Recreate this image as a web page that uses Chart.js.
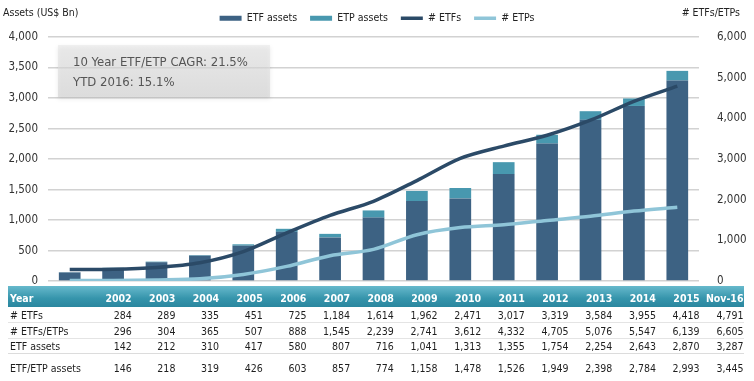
<!DOCTYPE html>
<html>
<head>
<meta charset="utf-8">
<title>ETF / ETP assets</title>
<script src="https://cdn.jsdelivr.net/npm/chart.js@4.4.0/dist/chart.umd.min.js"></script>
<style>
body { margin: 0; background: #fff; }
#wrap { position: relative; width: 754px; height: 381px; overflow: hidden; font-family: "DejaVu Sans Condensed", "Liberation Sans", sans-serif; }
#chartBox { position: absolute; left: 0; top: 0; width: 754px; height: 298px; }
#dataTable { position: absolute; left: 8px; top: 286px; width: 735.5px; border-collapse: collapse; table-layout: fixed; font-size: 10.5px; line-height: 12px; color: #1e1e1e; background: #fff; }
#dataTable td { padding: 0; text-align: right; white-space: nowrap; overflow: visible; vertical-align: middle; }
#dataTable td.lbl { text-align: left; padding-left: 2px; }
#dataTable tr.head td { color: #fff; font-weight: bold; height: 21px; padding-top: 3px; box-sizing: border-box; background: linear-gradient(#67b9cc, #3594ab 60%, #2b879f); }
#dataTable tr.r1 td, #dataTable tr.r2 td { height: 15px; border-bottom: 1px solid #e4e4e4; }
#dataTable tr.r3 td { height: 14px; border-bottom: 1px solid #dcdcdc; }
#dataTable tr.r4 td { height: 27px; }
</style>
</head>
<body>
<div id="wrap">
  <div id="chartBox"><canvas id="etfChart"></canvas></div>
  <table id="dataTable"></table>
</div>
<script>
// categories
var years = ['2002', '2003', '2004', '2005', '2006', '2007', '2008', '2009', '2010', '2011', '2012', '2013', '2014', '2015', 'Nov-16'];

// table rows, as printed under the chart
var numEtfs = [284, 289, 335, 451, 725, 1184, 1614, 1962, 2471, 3017, 3319, 3584, 3955, 4418, 4791];
var numEtfsEtps = [296, 304, 365, 507, 888, 1545, 2239, 2741, 3612, 4332, 4705, 5076, 5547, 6139, 6605];
var etfAssets = [142, 212, 310, 417, 580, 807, 716, 1041, 1313, 1355, 1754, 2254, 2643, 2870, 3287];
var etfEtpAssets = [146, 218, 319, 426, 603, 857, 774, 1158, 1478, 1526, 1949, 2398, 2784, 2993, 3445];

// plotted extras (ETP part of the stack, # ETPs line)
var etpAssets = [4, 6, 9, 9, 23, 50, 58, 117, 165, 171, 195, 144, 141, 123, 158];
var numEtps = [12, 15, 30, 56, 163, 361, 625, 779, 1141, 1315, 1386, 1492, 1592, 1721, 1814];

var FONT = "'DejaVu Sans Condensed', 'Liberation Sans', sans-serif";

function fmt(v) {
	return v.toLocaleString('en-US');
}

// data table under the chart
function buildTable() {
	var tbl = document.getElementById('dataTable');
	var html = '<colgroup><col style="width:80px">';
	for (var i = 0; i < years.length; i++) {
		html += '<col style="width:43.7px">';
	}
	html += '</colgroup>';
	var rows = [
		['head', 'Year', years],
		['r1', '# ETFs', numEtfs.map(fmt)],
		['r2', '# ETFs/ETPs', numEtfsEtps.map(fmt)],
		['r3', 'ETF assets', etfAssets.map(fmt)],
		['r4', 'ETF/ETP assets', etfEtpAssets.map(fmt)]
	];
	rows.forEach(function(r) {
		html += '<tr class="' + r[0] + '"><td class="lbl">' + r[1] + '</td>';
		r[2].forEach(function(c) { html += '<td>' + c + '</td>'; });
		html += '</tr>';
	});
	tbl.innerHTML = html;
}
buildTable();

var extrasPlugin = {
	id: 'extras',
	beforeLayout: function(chart) {
		// keep a fixed band for the legend so the plot starts where the original does
		var lg = chart.legend;
		if (lg && !lg._fixedFit) {
			var fit = lg.fit;
			lg.fit = function() {
				fit.call(this);
				this.height = 37;
			};
			lg._fixedFit = true;
		}
	},
	beforeDatasetsDraw: function(chart) {
		var ctx = chart.ctx;
		var a = chart.chartArea;
		var x = a.left + 10, y = a.top + 8, w = 212, h = 52;
		ctx.save();
		ctx.shadowColor = 'rgba(0,0,0,0.15)';
		ctx.shadowBlur = 4;
		ctx.shadowOffsetY = 2;
		var g = ctx.createLinearGradient(0, y, 0, y + h);
		g.addColorStop(0, 'rgba(232,232,232,0.6)');
		g.addColorStop(1, 'rgba(212,212,212,0.6)');
		ctx.fillStyle = g;
		ctx.fillRect(x, y, w, h);
		ctx.restore();
		ctx.save();
		ctx.fillStyle = '#555';
		ctx.font = '13px ' + FONT;
		ctx.textBaseline = 'middle';
		ctx.fillText('10 Year ETF/ETP CAGR: 21.5%', x + 15, y + 18);
		ctx.fillText('YTD 2016: 15.1%', x + 15, y + 38);
		ctx.restore();
	},
	afterDraw: function(chart) {
		var ctx = chart.ctx;
		ctx.save();
		ctx.fillStyle = '#222';
		ctx.font = '10.5px ' + FONT;
		ctx.textBaseline = 'middle';
		ctx.textAlign = 'left';
		ctx.fillText('Assets (US$ Bn)', 3, 13);
		ctx.textAlign = 'right';
		ctx.fillText('# ETFs/ETPs', 740, 13);
		ctx.restore();
	}
};

var ctx = document.getElementById('etfChart').getContext('2d');
var etfChart = new Chart(ctx, {
	type: 'bar',
	data: {
		labels: years,
		datasets: [
			{ label: 'ETF assets', data: etfAssets, backgroundColor: '#3d6283', yAxisID: 'y', order: 2,
			  barPercentage: 0.5, categoryPercentage: 1, pointStyle: 'rect' },
			{ label: 'ETP assets', data: etpAssets, backgroundColor: '#4898af', yAxisID: 'y', order: 2,
			  barPercentage: 0.5, categoryPercentage: 1, pointStyle: 'rect' },
			{ type: 'line', label: '# ETFs', data: numEtfs, borderColor: '#2b4a67', backgroundColor: '#2b4a67',
			  borderWidth: 3.5, pointRadius: 0, tension: 0.3, yAxisID: 'y1', order: 1, pointStyle: 'line' },
			{ type: 'line', label: '# ETPs', data: numEtps, borderColor: '#8fc5d8', backgroundColor: '#8fc5d8',
			  borderWidth: 3.5, pointRadius: 0, tension: 0.3, yAxisID: 'y1', order: 1, pointStyle: 'line' }
		]
	},
	options: {
		responsive: true,
		maintainAspectRatio: false,
		animation: false,
		layout: { padding: { top: 0, bottom: 2 } },
		plugins: {
			legend: {
				labels: {
					usePointStyle: true,
					pointStyleWidth: 22,
					boxHeight: 5,
					padding: 13,
					color: '#222',
					font: { family: FONT, size: 10.5 },
					sort: function(a, b) { return a.datasetIndex - b.datasetIndex; }
				}
			},
			tooltip: { enabled: false }
		},
		scales: {
			x: { display: false, stacked: true },
			y: {
				stacked: true, min: 0, max: 4000,
				ticks: { stepSize: 500, padding: 10, color: '#333', font: { family: FONT, size: 11.5 } },
				grid: { color: '#d2d2d2', lineWidth: 1.5, drawTicks: false },
				border: { display: false },
				afterFit: function(s) { s.width = 48; }
			},
			y1: {
				position: 'right', stacked: false, min: 0, max: 6000,
				ticks: { stepSize: 1000, padding: 10, color: '#333', font: { family: FONT, size: 11.5 } },
				grid: { display: false },
				border: { display: false },
				afterFit: function(s) { s.width = 55; }
			}
		}
	},
	plugins: [extrasPlugin]
});
</script>
</body>
</html>
